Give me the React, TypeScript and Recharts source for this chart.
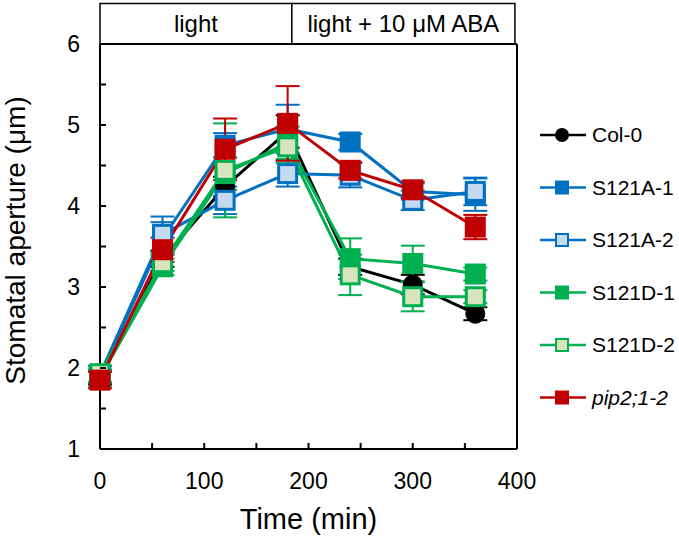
import React from 'react';
import {
  LineChart, Line, XAxis, YAxis, ErrorBar, ReferenceLine, ReferenceArea, Label,
} from 'recharts';

// ---- data ----
const times = [0, 60, 120, 180, 240, 300, 360];
const col0 = [1.88, 3.35, 4.24, 4.92, 3.25, 3.03, 2.67];
const col0Err = [0.08, 0.1, 0.12, 0.2, 0.1, 0.12, 0.08];
const s121a1 = [1.9, 3.6, 4.75, 4.95, 4.79, 4.18, 4.14];
const s121a1Err = [0.08, 0.2, 0.15, 0.3, 0.1, 0.1, 0.2];
const s121a2 = [1.92, 3.65, 4.07, 4.4, 4.38, 4.07, 4.18];
const s121a2Err = [0.1, 0.22, 0.17, 0.16, 0.15, 0.12, 0.17];
const s121d1 = [1.88, 3.25, 4.4, 4.78, 3.35, 3.29, 3.16];
const s121d1Err = [0.1, 0.1, 0.2, 0.2, 0.25, 0.22, 0.08];
const s121d2 = [1.93, 3.3, 4.44, 4.73, 3.15, 2.88, 2.88];
const s121d2Err = [0.1, 0.1, 0.58, 0.2, 0.25, 0.18, 0.08];
const pip = [1.85, 3.46, 4.7, 5.02, 4.44, 4.2, 3.74];
const pipErr = [0.1, 0.15, 0.38, 0.46, 0.1, 0.1, 0.15];

const xTicks = [0, 50, 100, 150, 200, 250, 300, 350, 400];
const xLabels = [0, 100, 200, 300, 400];
const yTicks = [1, 1.5, 2, 2.5, 3, 3.5, 4, 4.5, 5, 5.5, 6];
const yLabels = [1, 2, 3, 4, 5, 6];

const conditions = [
  { label: 'light', from: 0, to: 184 },
  { label: 'light + 10 μM ABA', from: 184, to: 398 },
];

const series = [
  { key: 'col0', err: 'col0Err', name: 'Col-0', stroke: '#000000', fill: '#000000', shape: 'circle', italic: false, values: col0, errs: col0Err },
  { key: 's121a1', err: 's121a1Err', name: 'S121A-1', stroke: '#0070C0', fill: '#0070C0', shape: 'square', italic: false, values: s121a1, errs: s121a1Err },
  { key: 's121a2', err: 's121a2Err', name: 'S121A-2', stroke: '#0070C0', fill: '#C5D9F1', shape: 'square', italic: false, values: s121a2, errs: s121a2Err },
  { key: 's121d1', err: 's121d1Err', name: 'S121D-1', stroke: '#00B050', fill: '#00B050', shape: 'square', italic: false, values: s121d1, errs: s121d1Err },
  { key: 's121d2', err: 's121d2Err', name: 'S121D-2', stroke: '#00B050', fill: '#D7E4BD', shape: 'square', italic: false, values: s121d2, errs: s121d2Err },
  { key: 'pip', err: 'pipErr', name: 'pip2;1-2', stroke: '#C00000', fill: '#C00000', shape: 'square', italic: true, values: pip, errs: pipErr },
];

const data = times.map((t, i) => {
  const row: any = { t };
  series.forEach((s) => {
    row[s.key] = s.values[i];
    row[s.err] = s.errs[i];
  });
  return row;
});

const FONT = '"Liberation Sans", Arial, sans-serif';

const Marker = ({ cx, cy, s, size }: any) => {
  if (cx == null || cy == null) return null;
  if (s.shape === 'circle') {
    return <circle cx={cx} cy={cy} r={size / 2} fill={s.fill} stroke={s.stroke} strokeWidth={1} />;
  }
  const inner = size - 3;
  return (
    <rect x={cx - inner / 2} y={cy - inner / 2} width={inner} height={inner}
      fill={s.fill} stroke={s.stroke} strokeWidth={3} />
  );
};

const XTick = (props: any) => {
  const { x, y, payload } = props;
  const major = xLabels.includes(payload.value);
  return (
    <g>
      <line x1={x} y1={y} x2={x} y2={y - 6} stroke="#000" strokeWidth={2} />
      {major && (
        <text x={x} y={y + 40} textAnchor="middle" fontSize={23} fontFamily={FONT} fill="#000">
          {payload.value}
        </text>
      )}
    </g>
  );
};

const YTick = (props: any) => {
  const { x, y, payload } = props;
  const major = yLabels.includes(payload.value);
  return (
    <g>
      <line x1={x} y1={y} x2={x + 6} y2={y} stroke="#000" strokeWidth={2} />
      {major && (
        <text x={x - 20} y={y + 8} textAnchor="end" fontSize={23} fontFamily={FONT} fill="#000">
          {payload.value}
        </text>
      )}
    </g>
  );
};

const Legend = () => (
  <svg width={139} height={320} style={{ position: 'absolute', left: 540, top: 110 }}>
    {series.map((s, i) => {
      const cy = 25 + i * 52.5;
      return (
        <g key={s.key}>
          <line x1={0} y1={cy} x2={46} y2={cy} stroke={s.stroke} strokeWidth={2.5} />
          {s.shape === 'circle' ? (
            <circle cx={22} cy={cy} r={7} fill={s.fill} />
          ) : (
            <rect x={16} y={cy - 6} width={12} height={12} fill={s.fill} stroke={s.stroke} strokeWidth={2} />
          )}
          <text x={52} y={cy + 7} fontSize={21} fontFamily={FONT} fill="#000"
            fontStyle={s.italic ? 'italic' : 'normal'}>
            {s.name}
          </text>
        </g>
      );
    })}
  </svg>
);

export default function App() {
  return (
    <div style={{ position: 'absolute', left: 0, top: 0, width: 679, height: 536, background: '#fff' }}>
      <LineChart width={679} height={536} data={data}
        margin={{ top: 44, right: 162, bottom: 27, left: 0 }}>
        {conditions.map((c) => (
          <ReferenceArea key={c.label} x1={c.from} x2={c.to} y1={6} y2={6.5}
            ifOverflow="visible" fill="#fff" fillOpacity={1} stroke="#000" strokeWidth={1.5}
            label={{ value: c.label, position: 'center', fontSize: 24, fill: '#000', fontFamily: FONT }} />
        ))}
        <XAxis type="number" dataKey="t" domain={[0, 400]} ticks={xTicks} interval={0}
          height={60} tickSize={0} tickMargin={0} tickLine={false}
          axisLine={{ stroke: '#000', strokeWidth: 2 }} tick={<XTick />}>
          <Label content={({ viewBox }: any) => (
            <text x={viewBox.x + viewBox.width / 2} y={viewBox.y + 80} textAnchor="middle"
              fontSize={29} fontFamily={FONT} fill="#000">Time (min)</text>
          )} />
        </XAxis>
        <YAxis type="number" domain={[1, 6]} ticks={yTicks} interval={0} width={100}
          tickSize={0} tickMargin={0} tickLine={false}
          axisLine={{ stroke: '#000', strokeWidth: 2 }} tick={<YTick />}>
          <Label content={({ viewBox }: any) => {
            const cx = viewBox.x + 25;
            const cy = viewBox.y + viewBox.height / 2 - 6;
            return (
              <text x={cx} y={cy} textAnchor="middle"
                transform={`rotate(-90, ${cx}, ${cy})`} fontSize={28} fontFamily={FONT} fill="#000">
                Stomatal aperture (μm)
              </text>
            );
          }} />
        </YAxis>
        <ReferenceLine y={6} stroke="#000" strokeWidth={2} />
        <ReferenceLine x={400} stroke="#000" strokeWidth={2} />
        {series.map((s) => (
          <Line key={s.key} dataKey={s.key} type="linear" stroke={s.stroke} strokeWidth={3}
            isAnimationActive={false}
            dot={(p: any) => <Marker key={`${s.key}-${p.index}`} cx={p.cx} cy={p.cy} s={s} size={s.shape === 'circle' ? 19 : 21} />}
            activeDot={false}>
            <ErrorBar dataKey={s.err} direction="y" width={12} stroke={s.stroke} strokeWidth={2} isAnimationActive={false} />
          </Line>
        ))}
      </LineChart>
      <Legend />
    </div>
  );
}
